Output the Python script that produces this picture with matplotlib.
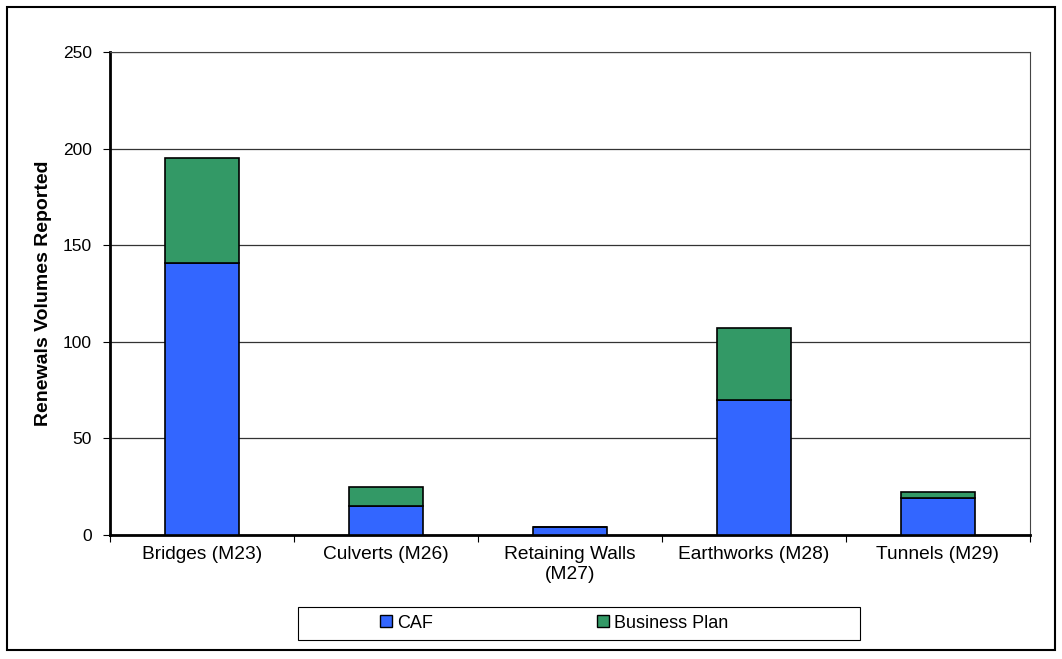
import matplotlib
matplotlib.use("Agg")
import matplotlib.pyplot as plt
from matplotlib.patches import Rectangle
import numpy as np

categories = ["Bridges (M23)", "Culverts (M26)", "Retaining Walls\n(M27)",
              "Earthworks (M28)", "Tunnels (M29)"]
caf = [141, 15, 4, 70, 19]
business_plan = [54, 10, 0, 37, 3]

plt.rcParams['font.family'] = ['Liberation Sans', 'DejaVu Sans']

fig = plt.figure(figsize=(10.62, 6.59), dpi=100)
ax = fig.add_axes([110 / 1062, 1 - 535 / 659, 920 / 1062, 483 / 659])

x = np.arange(len(categories))
ax.bar(x, caf, width=0.4, color='#3366FF', edgecolor='black', linewidth=1.2,
       label='CAF', zorder=3)
ax.bar(x, business_plan, width=0.4, bottom=caf, color='#339966',
       edgecolor='black', linewidth=1.2, label='Business Plan', zorder=3)

ax.set_xlim(-0.5, len(categories) - 0.5)
ax.set_ylim(0, 250)
ax.set_yticks([0, 50, 100, 150, 200, 250])
ax.yaxis.grid(True, color='#333333', linewidth=0.9, zorder=0)
ax.set_xticks(np.arange(len(categories) + 1) - 0.5, minor=False)
ax.set_xticklabels([''] * (len(categories) + 1))
ax.set_xticks(x, minor=True)
ax.set_xticklabels(categories, minor=True, fontsize=13.8)
ax.tick_params(axis='x', which='minor', length=0, pad=8)
ax.tick_params(axis='x', which='major', length=5, direction='out')
ax.tick_params(axis='y', labelsize=12.5, length=5, direction='out', pad=8)

for side in ['left', 'bottom']:
    ax.spines[side].set_linewidth(2)
for side in ['top', 'right']:
    ax.spines[side].set_linewidth(0.8)
    ax.spines[side].set_color('#444444')

ax.set_ylabel("Renewals Volumes Reported", fontsize=14, fontweight='bold',
              labelpad=8)

leg = ax.legend(loc='center left', bbox_to_anchor=(380 / 1062, 1 - 623 / 659),
                bbox_transform=fig.transFigure, ncol=2, frameon=False,
                fontsize=13, handlelength=0.67, handleheight=0.67,
                handletextpad=0.28, borderaxespad=0, borderpad=0,
                columnspacing=9.1)
for h in leg.legend_handles:
    h.set_linewidth(1.0)

fig.patches.append(Rectangle((298 / 1062, 1 - 640 / 659), 562 / 1062, 33 / 659,
                             transform=fig.transFigure, fill=False,
                             edgecolor='black', linewidth=0.8))
fig.patches.append(Rectangle((7 / 1062, 9 / 659), 1048 / 1062, 643 / 659,
                             transform=fig.transFigure, fill=False,
                             edgecolor='black', linewidth=1.5))

fig.savefig("out.png", dpi=100)
